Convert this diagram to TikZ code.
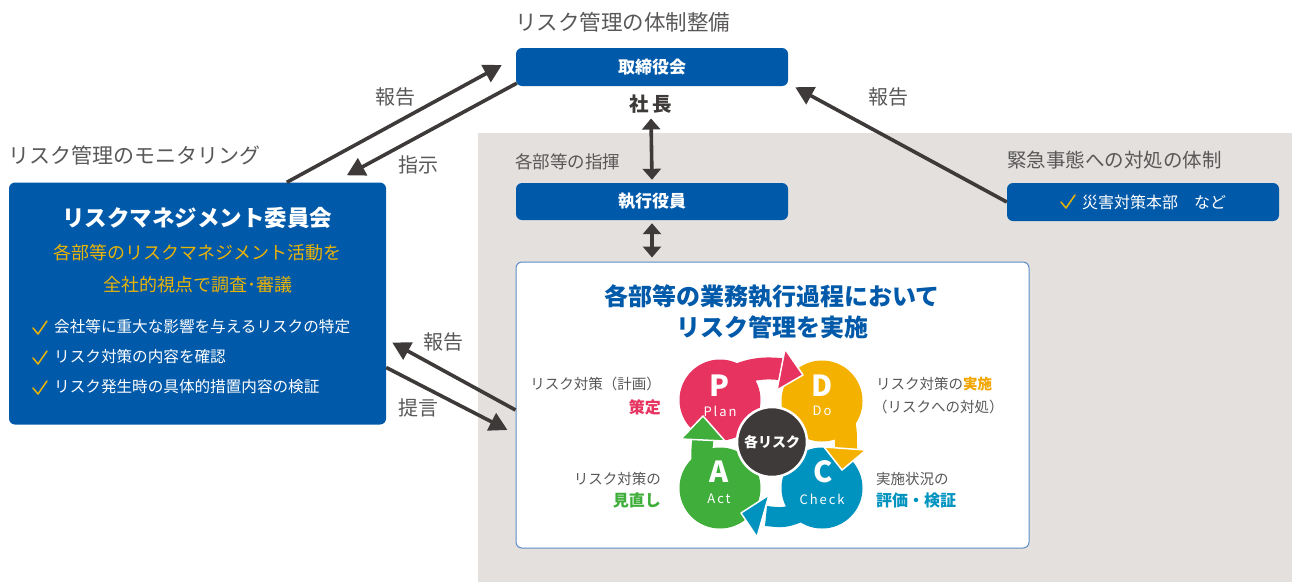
\documentclass[tikz,border=0pt]{standalone}
\usepackage{fontspec}
\setmainfont{Noto Sans CJK JP}
\usetikzlibrary{arrows.meta,calc}
\definecolor{mblue}{HTML}{0059A9}
\definecolor{adark}{HTML}{3E3A39}
\definecolor{tgray}{HTML}{595757}
\definecolor{bgray}{HTML}{E3E0DD}
\definecolor{gold}{HTML}{EAB308}
\definecolor{lblue}{HTML}{5B8DC9}
\definecolor{cp}{HTML}{E6335F}
\definecolor{cy}{HTML}{F5B100}
\definecolor{cyt}{HTML}{F0A500}
\definecolor{cb}{HTML}{0093BF}
\definecolor{cg}{HTML}{3FAE3A}
\tikzset{
  fs/.style={font=\fontsize{#1}{#1}\selectfont},
  fsb/.style={font=\fontsize{#1}{#1}\selectfont\bfseries},
  bluebox/.style={rounded corners=6pt, fill=mblue, text=white, inner sep=0pt},
  glabel/.style={text=tgray, inner sep=0pt},
  arr/.style={draw=adark, line width=3.6pt, -{Triangle[length=18pt,width=19pt]}},
  dblarr/.style={draw=adark, line width=3.6pt, {Triangle[length=11pt,width=18pt]}-{Triangle[length=11pt,width=18pt]}},
  whead/.style={draw=white, line width=1.5pt, line join=round},
  chkmark/.style={draw=gold, line width=1.5pt, line cap=round, line join=round},
}
\newcommand\mychk[2]{\draw[chkmark] (#1,#2) -- ++(5,6) -- ++(9,-13);}
\begin{document}
\begin{tikzpicture}[x=1pt,y=-1pt]
\useasboundingbox (0,0) rectangle (1292,582);
\fill[bgray] (478,133) rectangle (1292,582);

% headings
\node[glabel, fs=21.5, anchor=west] (h1) at (515,22) {リスク管理の体制整備};
\node[glabel, fs=21, anchor=west] (h2) at (8,155) {リスク管理のモニタリング};
\node[glabel, fs=17.5, anchor=west] (h3) at (515,162) {各部等の指揮};
\node[glabel, fs=19.5, anchor=west] (h4) at (1007,160) {緊急事態への対処の体制};

% top boxes
\node[bluebox, fsb=17, minimum width=272, minimum height=38] (tori) at (652,67) {取締役会};
\node[text=adark, fsb=19.5, inner sep=0pt] (shacho) at (651,104) {社\,長};
\node[bluebox, fsb=17, minimum width=272, minimum height=37] (exec) at (652,201.5) {執行役員};
\node[bluebox, minimum width=272, minimum height=38] (saigai) at (1143,202) {};
\node[text=white, fs=16, anchor=west, inner sep=0pt] (saigait) at (1082,202) {災害対策本部　など};
\mychk{1061}{202}

% white box
\node[draw=lblue, fill=white, line width=1pt, rounded corners=6pt, minimum width=513, minimum height=286, inner sep=0pt] (wbox) at (772.5,405) {};
\node[text=mblue, fsb=24, inner sep=0pt] (wt1) at (772,297) {各部等の業務執行過程において};
\node[text=mblue, fsb=24, inner sep=0pt] (wt2) at (772,327) {リスク管理を実施};

% committee box
\node[bluebox, minimum width=377, minimum height=242] (com) at (197.5,303.5) {};
\node[text=white, fsb=22.5, inner sep=0pt] (ct1) at (197,218) {リスクマネジメント委員会};
\node[text=gold, fs=18, inner sep=0pt] (ct2) at (197,253) {各部等のリスクマネジメント活動を};
\node[text=gold, fs=18, inner sep=0pt] (ct3) at (198,285) {全社的視点で調査･審議};
\foreach \yy/\tt [count=\i] in {327/会社等に重大な影響を与えるリスクの特定, 357/リスク対策の内容を確認, 387/リスク発生時の具体的措置内容の検証}{
  \mychk{33}{\yy+1}
  \node[text=white, fs=15.6, anchor=west, inner sep=0pt] (cl\i) at (54,\yy) {\tt};
}

% double arrows
\draw[dblarr] ([yshift=-5pt]shacho.south) -- ([yshift=3pt]exec.north);
\draw[dblarr] ([yshift=-3pt]exec.south) -- ([yshift=4pt]wbox.north -| exec.south);

% connectors
\coordinate (p1) at ($(com.north west)+(278,0)$);
\coordinate (p2) at ($(tori.west)+(-14,-2)$);
\draw[arr] (p1) -- (p2);
\coordinate (p3) at ($(tori.south west)+(1,-3)$);
\coordinate (p4) at ($(com.north west)+(338,-7)$);
\draw[arr] (p3) -- (p4);
\coordinate (p5) at ($(tori.south east)+(7,1)$);
\draw[arr] (saigai.west) -- (p5);
\coordinate (p6) at ($(wbox.west)+(0,5)$);
\coordinate (p7) at ($(com.east)+(6,39)$);
\draw[arr] (p6) -- (p7);
\coordinate (p8) at ($(com.east)+(0,64)$);
\coordinate (p9) at ($(wbox.west)+(-8,25)$);
\draw[arr] (p8) -- (p9);

\node[glabel, fs=20] (l1) at (395,97) {報告};
\node[glabel, fs=20] (l2) at (418,165) {指示};
\node[glabel, fs=20] (l3) at (888,97) {報告};
\node[glabel, fs=20] (l4) at (443,342) {報告};
\node[glabel, fs=20] (l5) at (418,408) {提言};

% PDCA
\draw[cy, line width=22pt] (838,410) .. controls (846,425) .. (846,452);
\fill[cy] (822,401) circle (40.5);
\draw[cp, line width=22pt] (735,376) .. controls (752,368) and (768,367) .. (787,370);
\filldraw[fill=cp, whead] (785,349) -- (803,375) -- (777,390) -- cycle;
\fill[cp] (720,400) circle (40.5);
\draw[cg, line width=21pt] (706,475) .. controls (701,460) .. (703,437);
\filldraw[fill=cg, whead] (681,439) -- (703,416) -- (725,441) -- cycle;
\fill[cg] (720,488) circle (40.5);
\draw[cb, line width=20pt] (805,510) .. controls (785,518) .. (766,516);
\filldraw[fill=cb, whead] (769,495) -- (741,513) -- (757,537) -- cycle;
\fill[cb] (822,488) circle (40.5);
\filldraw[fill=cy, whead] (824,447) -- (842,470) -- (866,450) -- cycle;
\node[circle, fill=adark, draw=white, line width=2.5pt, minimum size=70, inner sep=0pt, text=white, fsb=14] (ctr) at (772,442) {各リスク};

\node[text=white, fsb=29, inner sep=0pt] (lp) at (719,386) {P};
\node[text=white, fs=13, inner sep=0pt] (lp2) at (720,411) {\addfontfeatures{LetterSpace=15}Plan};
\node[text=white, fsb=29, inner sep=0pt] (ld) at (822,386) {D};
\node[text=white, fs=13, inner sep=0pt] (ld2) at (822,411) {\addfontfeatures{LetterSpace=15}Do};
\node[text=white, fsb=29, inner sep=0pt] (la) at (719,472) {A};
\node[text=white, fs=13, inner sep=0pt] (la2) at (719,499) {\addfontfeatures{LetterSpace=15}Act};
\node[text=white, fsb=29, inner sep=0pt] (lc) at (823,472) {C};
\node[text=white, fs=13, inner sep=0pt] (lc2) at (822,499) {\addfontfeatures{LetterSpace=15}Check};

% side labels
\node[glabel, fs=14.5, anchor=east] (s1) at (661,384) {リスク対策（計画）};
\node[text=cp, fsb=16, anchor=east, inner sep=0pt] (s2) at (661,407) {策定};
\node[glabel, fs=14.5, anchor=east] (s3) at (661,479) {リスク対策の};
\node[text=cg, fsb=16, anchor=east, inner sep=0pt] (s4) at (661,500) {見直し};
\node[glabel, fs=14.5, anchor=west] (s5) at (876,384) {リスク対策の\textcolor{cyt}{\bfseries 実施}};
\node[glabel, fs=14.5, anchor=west] (s6) at (873,407) {（リスクへの対処）};
\node[glabel, fs=14.5, anchor=west] (s7) at (876,479) {実施状況の};
\node[text=cb, fsb=16, anchor=west, inner sep=0pt] (s8) at (876,500) {評価・検証};
\end{tikzpicture}
\end{document}
